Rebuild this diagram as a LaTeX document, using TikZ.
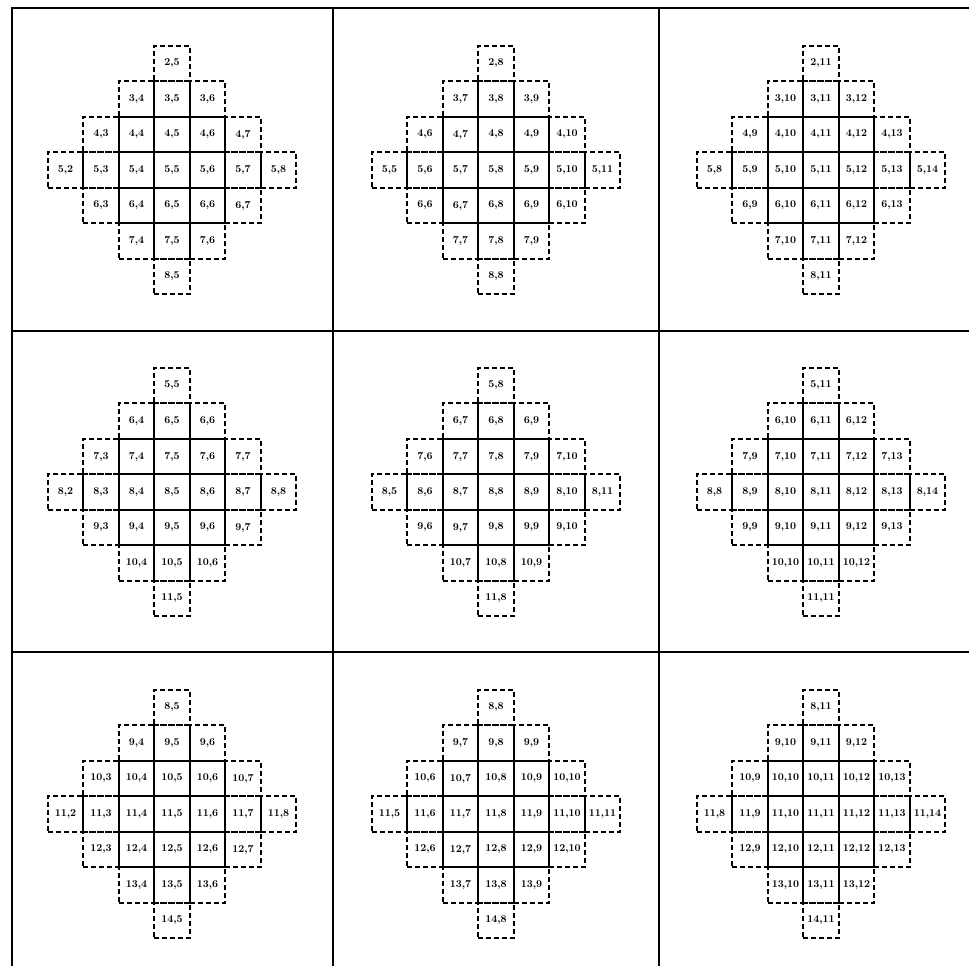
\documentclass[tikz,border=0pt]{standalone}
\usetikzlibrary{positioning}
\tikzset{
  cellbox/.style={minimum size=35.5pt, inner sep=0pt, outer sep=0pt,
    font=\bfseries\fontsize{10.5}{10.5}\selectfont},
  outercell/.style={cellbox, draw, dash pattern=on 5pt off 3pt, line width=1.7pt},
  innercell/.style={cellbox, draw, line width=2.3pt},
  frameline/.style={line width=2.5pt}
}
\begin{document}
\begin{tikzpicture}[x=1pt,y=-1pt]
  \useasboundingbox (0,0) rectangle (969,966);
  % Rahmen
  \draw[frameline] (12,966) -- (12,8) -- (969,8);
  \foreach \x in {333,659}
    \draw[frameline] (\x,8) -- (\x,966);
  \foreach \y in {331,652}
    \draw[frameline] (12,\y) -- (969,\y);
  % Felder
  \foreach \pr/\py in {5/170,8/492,11/814}
    \foreach \pc/\px in {5/172,8/496,11/821} {
      % gestrichelte Nachbarn
      \foreach \dr in {-3,...,3}
        \foreach \dc in {-3,...,3} {
          \pgfmathtruncatemacro\dist{abs(\dr)+abs(\dc)}
          \pgfmathtruncatemacro\inner{max(abs(\dr),abs(\dc))}
          \pgfmathtruncatemacro\rr{\pr+\dr}
          \pgfmathtruncatemacro\cc{\pc+\dc}
          \ifnum\dist<4 \ifnum\inner>1
            \node[outercell] (p\pr\pc-\rr-\cc) at (\px+\dc*35.5,\py+\dr*35.5) {\rr,\cc};
          \fi\fi
        }
      % innerer 3x3 Block
      \foreach \dr in {-1,0,1}
        \foreach \dc in {-1,0,1} {
          \pgfmathtruncatemacro\rr{\pr+\dr}
          \pgfmathtruncatemacro\cc{\pc+\dc}
          \node[innercell] (p\pr\pc-\rr-\cc) at (\px+\dc*35.5,\py+\dr*35.5) {\rr,\cc};
        }
    }
\end{tikzpicture}
\end{document}
